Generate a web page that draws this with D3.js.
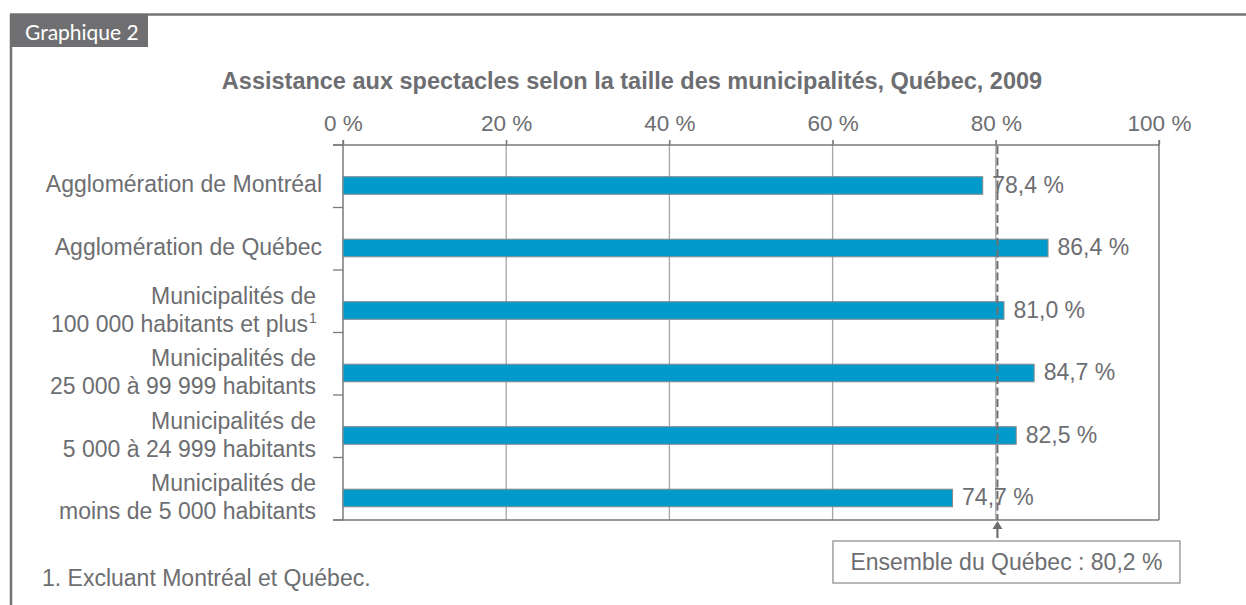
<!DOCTYPE html>
<html><head><meta charset="utf-8">
<script src="https://cdn.jsdelivr.net/npm/d3@7"></script>
<style>
body{margin:0;background:#fff}
text{font-family:"Liberation Sans",Arial,Helvetica,sans-serif}
</style>
</head><body>
<svg id="c" width="1246" height="605"></svg>
<script>
// ---- data ----
const categories = [
  "Agglomération de Montréal",
  "Agglomération de Québec",
  "Municipalités de 100 000 habitants et plus",
  "Municipalités de 25 000 à 99 999 habitants",
  "Municipalités de 5 000 à 24 999 habitants",
  "Municipalités de moins de 5 000 habitants"
];
const categoryLines = [
  ["Agglomération de Montréal"],
  ["Agglomération de Québec"],
  ["Municipalités de", "100 000 habitants et plus"],
  ["Municipalités de", "25 000 à 99 999 habitants"],
  ["Municipalités de", "5 000 à 24 999 habitants"],
  ["Municipalités de", "moins de 5 000 habitants"]
];
const categoryNotes = ["", "", "1", "", "", ""];
const values = [78.4, 86.4, 81.0, 84.7, 82.5, 74.7];
const valueLabels = ["78,4 %", "86,4 %", "81,0 %", "84,7 %", "82,5 %", "74,7 %"];
const tickValues = [0, 20, 40, 60, 80, 100];
const tickLabels = ["0 %", "20 %", "40 %", "60 %", "80 %", "100 %"];
const overallValue = 80.2;
const overallLabel = "Ensemble du Québec : 80,2 %";
const chartTag = "Graphique 2";
const chartTitle = "Assistance aux spectacles selon la taille des municipalités, Québec, 2009";
const footnote = "1. Excluant Montréal et Québec.";

// ---- drawing ----
(function () {
const svg = d3.select("#c");
const textCol = "#6d6e71";
const pLeft = 343, pRight = 1159, pTop = 145, pBottom = 520;

const x = d3.scaleLinear().domain([0, 100]).range([pLeft, pRight]);
const y = d3.scaleBand().domain(categories).range([pTop, pBottom]).padding(0);
const bw = y.bandwidth();
const barOff = bw * 0.507, barH = 17.6;
const center = c => y(c) + barOff + barH / 2;

// frame
svg.append("line").attr("x1", 10).attr("x2", 1246).attr("y1", 14.5).attr("y2", 14.5)
  .attr("stroke", "#737376").attr("stroke-width", 2.5);
svg.append("line").attr("x1", 11).attr("x2", 11).attr("y1", 14).attr("y2", 605)
  .attr("stroke", "#737376").attr("stroke-width", 2.5);
svg.append("rect").attr("x", 10).attr("y", 14).attr("width", 138).attr("height", 33)
  .attr("fill", "#6f6f72");
svg.append("text").attr("x", 25).attr("y", 40).attr("fill", "#fff")
  .style("font-family", "Lato, 'Open Sans', sans-serif").style("font-size", "21px")
  .text(chartTag);

// title
svg.append("text").attr("x", 632).attr("y", 89).attr("text-anchor", "middle")
  .attr("fill", textCol).style("font-size", "23.5px").style("font-weight", "bold")
  .text(chartTitle);

// vertical grid lines
svg.append("g").selectAll("line").data(tickValues.slice(1, -1)).join("line")
  .attr("x1", d => x(d)).attr("x2", d => x(d)).attr("y1", pTop - 5).attr("y2", pBottom)
  .attr("stroke", "#a6a6a8").attr("stroke-width", 1.3);

// top axis via d3
const xAxis = d3.axisTop(x).tickValues(tickValues)
  .tickFormat((d, i) => tickLabels[i]).tickSize(5).tickPadding(9);
const gx = svg.append("g").attr("transform", `translate(0,${pTop})`).call(xAxis);
gx.select(".domain").remove();
gx.selectAll(".tick line").attr("stroke", "#7a7a7c").attr("stroke-width", 1.3);
gx.selectAll(".tick text").attr("fill", textCol).style("font-size", "22.5px")
  .style("font-family", "'Liberation Sans',Arial,sans-serif");

// plot frame lines
svg.append("line").attr("x1", pLeft - 10).attr("x2", pRight).attr("y1", pTop).attr("y2", pTop)
  .attr("stroke", "#7a7a7c").attr("stroke-width", 1.5);
svg.append("line").attr("x1", pLeft - 10).attr("x2", pRight).attr("y1", pBottom).attr("y2", pBottom)
  .attr("stroke", "#7a7a7c").attr("stroke-width", 1.5);
svg.append("line").attr("x1", pRight).attr("x2", pRight).attr("y1", pTop - 5).attr("y2", pBottom)
  .attr("stroke", "#7a7a7c").attr("stroke-width", 1.5);

// left axis (band boundary ticks)
const boundaries = categories.map(c => y(c)).concat([pBottom]);
svg.append("g").selectAll("line").data(boundaries).join("line")
  .attr("x1", pLeft - 10).attr("x2", pLeft).attr("y1", d => d).attr("y2", d => d)
  .attr("stroke", "#7a7a7c").attr("stroke-width", 1.3);
svg.append("line").attr("x1", pLeft).attr("x2", pLeft).attr("y1", pTop - 5).attr("y2", pBottom)
  .attr("stroke", "#7a7a7c").attr("stroke-width", 1.5);

// bars
svg.append("g").selectAll("rect").data(categories).join("rect")
  .attr("x", x(0)).attr("y", c => y(c) + barOff)
  .attr("width", (c, i) => x(values[i]) - x(0)).attr("height", barH)
  .attr("fill", "#009bca").attr("stroke", "#8a8a8c").attr("stroke-width", 1);

// reference dashed line
svg.append("line").attr("x1", x(overallValue)).attr("x2", x(overallValue))
  .attr("y1", pTop + 1).attr("y2", pBottom)
  .attr("stroke", "#6f6f72").attr("stroke-width", 2).attr("stroke-dasharray", "8,3.5");

// value labels
svg.append("g").selectAll("text").data(categories).join("text")
  .attr("x", (c, i) => x(values[i]) + 9.5).attr("y", c => center(c) + 7.5)
  .attr("fill", textCol).style("font-size", "23px")
  .text((c, i) => valueLabels[i]);

// category labels
const cl = svg.append("g").selectAll("text").data(categories).join("text")
  .attr("text-anchor", "end").attr("fill", textCol).style("font-size", "23px");
cl.each(function(c, i) {
  const t = d3.select(this);
  const lines = categoryLines[i];
  const cy = center(c);
  if (lines.length === 1) {
    t.attr("x", 322).attr("y", cy + 7);
    t.text(lines[0]);
  } else {
    lines.forEach((ln, k) => {
      t.append("tspan").attr("x", categoryNotes[i] && k === 1 ? 308 : 316)
        .attr("y", cy - 6.5 + k * 28).text(ln);
    });
  }
  if (categoryNotes[i]) {
    svg.append("text").attr("x", 309).attr("y", cy - 6.5 + 28 - 9)
      .attr("fill", textCol).style("font-size", "14px").text(categoryNotes[i]);
  }
});

// arrow + box
const ax = x(overallValue);
svg.append("line").attr("x1", ax).attr("x2", ax).attr("y1", 538).attr("y2", 527)
  .attr("stroke", "#6f6f72").attr("stroke-width", 2.2);
svg.append("path").attr("d", `M${ax - 5},${529} L${ax},${521} L${ax + 5},${529} Z`)
  .attr("fill", "#6f6f72");
const boxW = 347, boxH = 42;
svg.append("rect").attr("x", ax + 9 - boxW / 2).attr("y", 541).attr("width", boxW).attr("height", boxH)
  .attr("fill", "#fff").attr("stroke", "#a0a0a2").attr("stroke-width", 1.5);
svg.append("text").attr("x", ax + 9).attr("y", 570).attr("text-anchor", "middle")
  .attr("fill", textCol).style("font-size", "23px").text(overallLabel);

// footnote
svg.append("text").attr("x", 42).attr("y", 586).attr("fill", textCol)
  .style("font-size", "23px").text(footnote);
})();
</script>
</body></html>
